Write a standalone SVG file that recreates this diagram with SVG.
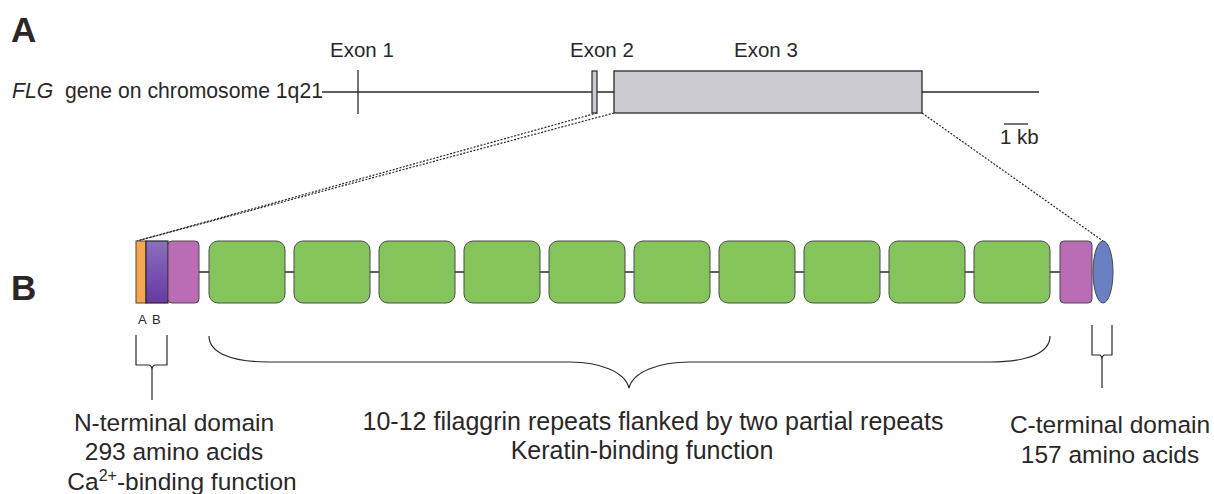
<svg xmlns="http://www.w3.org/2000/svg" width="1214" height="494" viewBox="0 0 1214 494">
<defs>
<linearGradient id="gB" x1="0" y1="0" x2="0" y2="1">
<stop offset="0" stop-color="#8a6fbe"/>
<stop offset="1" stop-color="#6639a3"/>
</linearGradient>
<style>
text{font-family:"Liberation Sans",Arial,sans-serif;fill:#2b2728}
.big{font-size:35px;font-weight:bold}
.lbl{font-size:20.5px}
.bot{font-size:24.5px}
.mid{font-size:25px}
.ab{font-size:13px}
.ln{stroke:#2b2728;stroke-width:1.3;fill:none}
.dot{stroke:#2b2728;stroke-width:1.2;fill:none;stroke-dasharray:2 1.5}
.rep{fill:#85c45a;stroke:#4a4a4a;stroke-width:1}
.mag{fill:#ba6cb4;stroke:#4a4a4a;stroke-width:1}
.br{stroke:#2b2728;stroke-width:1.2;fill:none}
</style>
</defs>
<rect width="1214" height="494" fill="#ffffff"/>

<text class="big" x="11" y="42">A</text>
<text class="big" x="11" y="300">B</text>

<g id="gene">
<text class="lbl" x="12" y="98" style="font-size:21.2px"><tspan font-style="italic">FLG</tspan><tspan x="65">gene on chromosome 1q21</tspan></text>
<line class="ln" x1="322" y1="92" x2="1039" y2="92"/>
</g>
<g id="exon1">
<line class="ln" x1="358" y1="70" x2="358" y2="114"/>
<text class="lbl" x="330" y="57">Exon 1</text>
</g>
<g id="exon2">
<rect x="592" y="71" width="5" height="42" fill="#cbcad0" stroke="#2b2728" stroke-width="1.2"/>
<text class="lbl" x="570" y="57">Exon 2</text>
</g>
<g id="exon3">
<rect x="614" y="71" width="308" height="42" fill="#cbcad0" stroke="#2b2728" stroke-width="1.3"/>
<text class="lbl" x="734" y="57">Exon 3</text>
</g>
<g id="scale">
<line class="ln" x1="1004" y1="124" x2="1028" y2="124"/>
<text class="lbl" x="1000" y="144">1 kb</text>
</g>

<g id="connectors">
<line class="dot" x1="597" y1="113" x2="137" y2="241"/>
<line class="dot" x1="614" y1="113" x2="137" y2="241"/>
<line class="dot" x1="922" y1="113" x2="1103" y2="241"/>
<line class="ln" x1="199" y1="272" x2="1060" y2="272"/>
</g>

<g id="domainA"><rect x="136" y="241" width="10" height="62" fill="#f6a64c" stroke="#4a4a4a" stroke-width="1"/></g>
<g id="domainB"><rect x="146" y="241" width="22" height="62" fill="url(#gB)" stroke="#2b2728" stroke-width="1.2"/></g>
<g id="partial1"><rect class="mag" x="168" y="241" width="31" height="62" rx="4"/></g>
<g id="repeats">
<rect class="rep" x="209" y="241" width="76" height="62" rx="9"/>
<rect class="rep" x="294" y="241" width="76" height="62" rx="9"/>
<rect class="rep" x="379" y="241" width="76" height="62" rx="9"/>
<rect class="rep" x="464" y="241" width="76" height="62" rx="9"/>
<rect class="rep" x="549" y="241" width="76" height="62" rx="9"/>
<rect class="rep" x="634" y="241" width="76" height="62" rx="9"/>
<rect class="rep" x="719" y="241" width="76" height="62" rx="9"/>
<rect class="rep" x="804" y="241" width="76" height="62" rx="9"/>
<rect class="rep" x="889" y="241" width="76" height="62" rx="9"/>
<rect class="rep" x="974" y="241" width="76" height="62" rx="9"/>
</g>
<g id="partial2"><rect class="mag" x="1060" y="241" width="32" height="62" rx="4"/></g>
<g id="cterm"><ellipse cx="1103" cy="272" rx="10" ry="31" fill="#6a80c2" stroke="#4a4a4a" stroke-width="1"/></g>

<text class="ab" x="138" y="324">A</text>
<text class="ab" x="152" y="324">B</text>

<g id="brackets">
<path class="br" d="M136,335 L136,365 L149,365 Q152,366 152,370 L152,400 M167,335 L167,365 L155,365 Q152,366 152,370"/>
<path class="br" d="M209,336 C209,352 230,362 268,362 L570,362 C600,362 625,372 629,388 C633,372 658,362 690,362 L990,362 C1030,362 1050,352 1050,336"/>
<path class="br" d="M1092,325 L1092,355 L1100,355 Q1102,356 1102,359 L1102,388 M1112,325 L1112,355 L1104,355 Q1102,356 1102,359"/>
</g>

<g id="labels">
<text class="bot" text-anchor="middle" x="174" y="431">N-terminal domain</text>
<text class="bot" text-anchor="middle" x="174" y="460">293 amino acids</text>
<text class="bot" text-anchor="middle" x="182" y="490">Ca<tspan font-size="16" dy="-9">2+</tspan><tspan dy="9">-binding function</tspan></text>
<text class="mid" text-anchor="middle" x="653" y="430">10-12 filaggrin repeats flanked by two partial repeats</text>
<text class="mid" text-anchor="middle" x="642" y="459">Keratin-binding function</text>
<text class="bot" text-anchor="middle" x="1110" y="433">C-terminal domain</text>
<text class="bot" text-anchor="middle" x="1110" y="463">157 amino acids</text>
</g>
</svg>
